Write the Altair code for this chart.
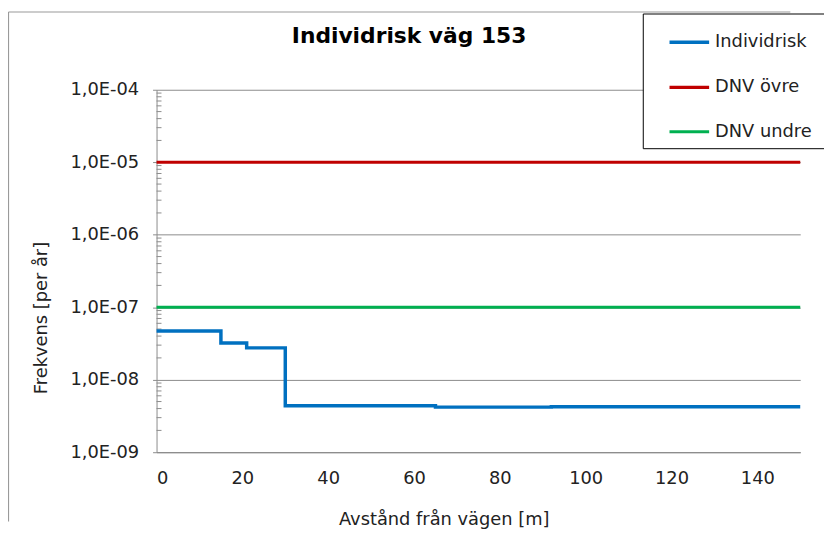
import altair as alt
import pandas as pd

# Data
risk_x = [0, 15, 21, 30, 65, 92, 150]
risk_y = [4.7e-8, 3.2e-8, 2.75e-8, 4.38e-9, 4.19e-9, 4.24e-9, 4.24e-9]
dnv_x = [0, 150]
dnv_upper = [1e-5, 1e-5]
dnv_lower = [1e-7, 1e-7]
series_names = ["Individrisk", "DNV övre", "DNV undre"]
series_colors = ["#0070C0", "#C00000", "#00B050"]
series_widths = [3.5, 3, 3]
decades = [1e-9, 1e-8, 1e-7, 1e-6, 1e-5, 1e-4]
x_ticks = [0, 20, 40, 60, 80, 100, 120, 140]
minor_ticks = [m * d for d in decades[:-1] for m in range(2, 10)]

rows = []
for x, y in zip(risk_x, risk_y):
    rows.append({"x": x, "y": y, "serie": series_names[0], "o": 0})
for x, y in zip(dnv_x, dnv_upper):
    rows.append({"x": x, "y": y, "serie": series_names[1], "o": 1})
for x, y in zip(dnv_x, dnv_lower):
    rows.append({"x": x, "y": y, "serie": series_names[2], "o": 2})
df = pd.DataFrame(rows)
minor_df = pd.DataFrame({"y": minor_ticks})

FONT = "DejaVu Sans"

y_scale = alt.Scale(type="log", domain=[1e-9, 1e-4])
x_scale = alt.Scale(domain=[0, 150], nice=False)

lines = alt.Chart(df).mark_line(interpolate="step-after").encode(
    x=alt.X("x:Q", scale=x_scale,
            axis=alt.Axis(title="Avstånd från vägen [m]", values=x_ticks, grid=False,
                          ticks=False, labelPadding=18, domainColor="#888888",
                          titleX=290, titleY=68, titleBaseline="middle")),
    y=alt.Y("y:Q", scale=y_scale,
            axis=alt.Axis(title="Frekvens [per år]", values=decades, grid=True,
                          gridColor="#8c8c8c", gridWidth=1, tickSize=4,
                          tickColor="#8c8c8c", domainColor="#8c8c8c",
                          labelPadding=14,
                          labelExpr="'1,0E-0' + toString(-round(log(datum.value)/LN10))",
                          titleX=-116, titleY=230, titleBaseline="middle")),
    color=alt.Color("serie:N", scale=alt.Scale(domain=series_names, range=series_colors),
                    legend=alt.Legend(title=None, orient="none", legendX=491, legendY=-77,
                                      strokeColor="black", fillColor="white",
                                      padding=7, symbolType="stroke",
                                      symbolSize=1600, symbolStrokeWidth=3,
                                      symbolOffset=18, labelOffset=4,
                                      labelFontSize=18, labelFont=FONT,
                                      labelExpr="datum.label + '\u2800'",
                                      labelLimit=400,
                                      labelColor="#222222", rowPadding=14.5)),
    strokeWidth=alt.StrokeWidth("serie:N",
                                scale=alt.Scale(domain=series_names, range=series_widths),
                                legend=None),
    detail="o:N",
)

minor = alt.Chart(minor_df).mark_rule(color="#8c8c8c", strokeWidth=1).encode(
    y=alt.Y("y:Q", scale=y_scale),
    x=alt.value(0),
    x2=alt.value(5),
)

# outer chart-area frame edges (decoration, as in the spreadsheet chart)
frame_src = pd.DataFrame({"f": [0]})
frame_left = alt.Chart(frame_src).mark_rule(color="#9a9a9a", strokeWidth=1.2).encode(
    x=alt.value(-149.5), y=alt.value(-78.5), y2=alt.value(436)
)
frame_top = alt.Chart(frame_src).mark_rule(color="#9a9a9a", strokeWidth=1.2).encode(
    x=alt.value(-149.5), x2=alt.value(640), y=alt.value(-78.5)
)

chart = alt.layer(frame_left, frame_top, minor, lines).properties(
    width=650,
    height=366,
    autosize=alt.AutoSizeParams(type="none"),
    padding={"left": 150, "top": 80, "right": 24, "bottom": 78},
    title=alt.TitleParams("Individrisk väg 153", fontSize=22, font=FONT, fontWeight="bold",
                          anchor="middle", dx=-70, offset=-37, color="#000000"),
).configure_view(stroke=None).configure_axis(
    labelFont=FONT, titleFont=FONT, labelFontSize=18, titleFontSize=18,
    labelColor="#222222", titleColor="#222222", titleFontWeight="normal",
)

chart.save("out.html", embed_options={"renderer": "svg", "actions": False})
